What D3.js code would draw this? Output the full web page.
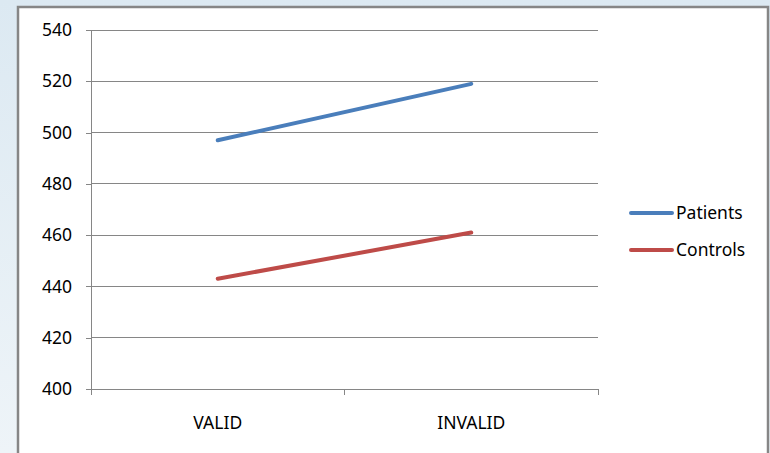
<!DOCTYPE html>
<html>
<head>
<meta charset="utf-8">
<script src="https://cdn.jsdelivr.net/npm/d3@7"></script>
<style>
  html, body { margin: 0; padding: 0; }
  body { width: 770px; height: 453px; overflow: hidden; }
  svg text { font-family: "Noto Sans", "Open Sans", sans-serif; fill: #000; }
</style>
</head>
<body>
<svg id="chart" width="770" height="453"></svg>
<script>
// Mean reaction time per cue condition
const categories = ["VALID", "INVALID"];
const patients = [497, 519];
const controls = [443, 461];
const seriesNames = ["Patients", "Controls"];
const seriesColors = ["#4a7ebb", "#be4b48"];
const yTicks = [400, 420, 440, 460, 480, 500, 520, 540];

const fontSize = 17.5;
const svg = d3.select("#chart");

// page background gradient and chart frame
const defs = svg.append("defs");
const grad = defs.append("linearGradient").attr("id", "bg")
  .attr("x1", 0).attr("y1", 0).attr("x2", 0).attr("y2", 1);
grad.append("stop").attr("offset", "0%").attr("stop-color", "#dce9f2");
grad.append("stop").attr("offset", "100%").attr("stop-color", "#eef4f8");
svg.append("rect").attr("width", 770).attr("height", 453).attr("fill", "url(#bg)");
svg.append("rect")
  .attr("x", 18).attr("y", 7).attr("width", 750).attr("height", 460)
  .attr("fill", "#fff").attr("stroke", "#868686").attr("stroke-width", 2.5);

const plot = { left: 91, right: 598, top: 30, bottom: 389 };

const x = d3.scaleBand().domain(categories).range([plot.left, plot.right]);
const y = d3.scaleLinear().domain([400, 540]).range([plot.bottom, plot.top]);

// horizontal gridlines
svg.append("g").selectAll("line").data(yTicks.filter(t => t !== 400)).join("line")
  .attr("x1", plot.left).attr("x2", plot.right)
  .attr("y1", d => y(d)).attr("y2", d => y(d))
  .attr("stroke", "#868686").attr("stroke-width", 1)
  .attr("shape-rendering", "crispEdges");

// y axis
const yAxis = svg.append("g").attr("transform", `translate(${plot.left},0)`)
  .call(d3.axisLeft(y).tickValues(yTicks).tickSize(5).tickPadding(14));
yAxis.select(".domain").attr("stroke", "#868686").attr("shape-rendering", "crispEdges");
yAxis.selectAll(".tick line").attr("stroke", "#868686").attr("shape-rendering", "crispEdges");
yAxis.selectAll("text").attr("font-size", fontSize).style("font-family", '"Noto Sans", sans-serif');

// x axis with ticks at band boundaries
const xAxis = svg.append("g").attr("transform", `translate(0,${plot.bottom})`);
xAxis.append("line").attr("x1", plot.left).attr("x2", plot.right)
  .attr("stroke", "#868686").attr("shape-rendering", "crispEdges");
const bounds = [plot.left, ...categories.map(c => x(c) + x.bandwidth())];
xAxis.selectAll("line.tk").data(bounds).join("line").attr("class", "tk")
  .attr("x1", d => d).attr("x2", d => d).attr("y1", 0).attr("y2", 6)
  .attr("stroke", "#868686").attr("shape-rendering", "crispEdges");
xAxis.selectAll("text").data(categories).join("text")
  .attr("x", d => x(d) + x.bandwidth() / 2).attr("y", 40)
  .attr("text-anchor", "middle").attr("font-size", fontSize).text(d => d);

// series lines
const line = d3.line().x((d, i) => x(categories[i]) + x.bandwidth() / 2).y(d => y(d));
[patients, controls].forEach((vals, i) => {
  svg.append("path").datum(vals).attr("d", line)
    .attr("fill", "none").attr("stroke", seriesColors[i])
    .attr("stroke-width", 4).attr("stroke-linecap", "round");
});

// legend
const legend = svg.append("g").attr("transform", "translate(631,213)");
seriesNames.forEach((name, i) => {
  const g = legend.append("g").attr("transform", `translate(0,${i * 37})`);
  g.append("line").attr("x1", 0).attr("x2", 41).attr("y1", 0).attr("y2", 0)
    .attr("stroke", seriesColors[i]).attr("stroke-width", 4).attr("stroke-linecap", "round");
  g.append("text").attr("x", 45).attr("y", 6).attr("font-size", fontSize).text(name);
});
</script>
</body>
</html>
